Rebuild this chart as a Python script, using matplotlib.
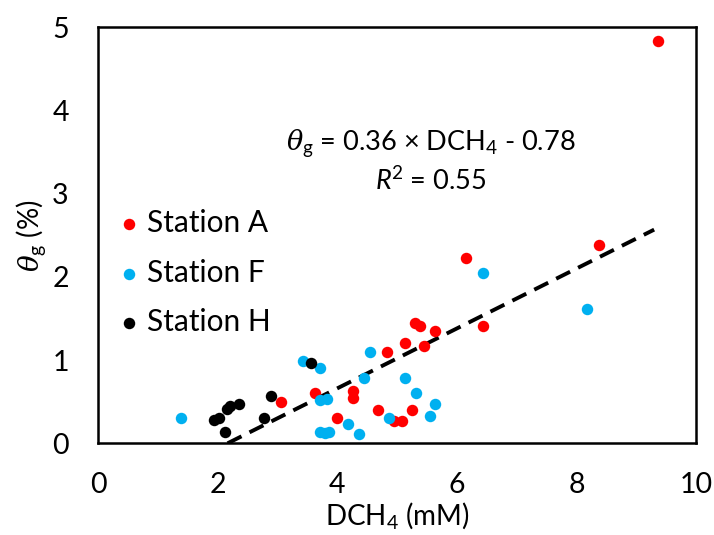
import matplotlib
matplotlib.use("Agg")
import numpy as np
from matplotlib import pyplot as plt

plt.rcParams['font.family'] = ['Lato', 'DejaVu Sans']
plt.rcParams['mathtext.fontset'] = 'custom'
plt.rcParams['mathtext.rm'] = 'Lato'
plt.rcParams['mathtext.it'] = 'DejaVu Serif:italic'
plt.rcParams['mathtext.sf'] = 'Lato:italic'

# dissolved CH4 (mM) vs gas content (%) per station
station_a_x = [3.06, 3.63, 3.99, 4.27, 4.27, 4.69, 4.83, 4.95, 5.09, 5.13,
               5.25, 5.30, 5.38, 5.45, 5.64, 6.15, 6.44, 8.37, 9.36]
station_a_y = [0.50, 0.60, 0.30, 0.63, 0.55, 0.40, 1.10, 0.27, 0.27, 1.21,
               0.40, 1.45, 1.41, 1.17, 1.35, 2.23, 1.41, 2.38, 4.84]

station_f_x = [1.39, 3.42, 3.71, 3.71, 3.83, 3.71, 3.80, 3.87, 4.18, 4.36,
               4.45, 4.54, 4.87, 5.13, 5.32, 5.55, 5.64, 6.44, 8.17]
station_f_y = [0.31, 0.99, 0.91, 0.52, 0.53, 0.13, 0.12, 0.13, 0.23, 0.11,
               0.78, 1.10, 0.30, 0.79, 0.60, 0.33, 0.47, 2.05, 1.62]

station_h_x = [1.94, 2.03, 2.13, 2.16, 2.21, 2.35, 2.78, 2.90, 3.56]
station_h_y = [0.28, 0.31, 0.14, 0.41, 0.45, 0.47, 0.30, 0.57, 0.97]

# linear fit reported on the chart
slope = 0.36
intercept = -0.78
r2 = 0.55

fig = plt.figure(figsize=(7.14, 5.35), dpi=100)
ax = fig.add_axes([0.1373, 0.1714, 0.8375, 0.7776])

ax.scatter(station_a_x, station_a_y, s=68, color='#FF0000', linewidths=0, label='Station A', zorder=3)
ax.scatter(station_f_x, station_f_y, s=68, color='#00B0F0', linewidths=0, label='Station F', zorder=3)
ax.scatter(station_h_x, station_h_y, s=68, color='black', linewidths=0, label='Station H', zorder=3)

all_x = station_a_x + station_f_x + station_h_x
x_fit = np.array([-intercept / slope, max(all_x) - 0.06])
ax.plot(x_fit, slope * x_fit + intercept, color='black', lw=2.8,
        linestyle=(0, (4.0, 2.3)), zorder=2)

ax.text(5.57, 3.61, r'$\theta_\mathrm{g}$ = 0.36 × DCH$_4$ - 0.78',
        fontsize=19.5, ha='center', va='center')
ax.text(5.57, 3.16, f'$\\mathsf{{R}}^2$ = {r2:.2f}', fontsize=19.5, ha='center', va='center')

ax.set_xlim(0, 10)
ax.set_ylim(0, 5)
ax.set_xticks(range(0, 11, 2))
ax.set_yticks(range(0, 6))
ax.tick_params(length=0, pad=21, labelsize=20.5)
for sp in ax.spines.values():
    sp.set_linewidth(1.8)

ax.set_xlabel('DCH$_4$ (mM)', fontsize=20, labelpad=1)
ax.set_ylabel(r'$\theta_\mathrm{g}$ (%)', fontsize=20, labelpad=3)

ax.legend(loc='center left', bbox_to_anchor=(0.03, 0.41), frameon=False,
          fontsize=21.5, handletextpad=0.15, handlelength=0.9, borderpad=0,
          borderaxespad=0, labelspacing=0.72, scatterpoints=1)

fig.savefig('out.png', dpi=100)
